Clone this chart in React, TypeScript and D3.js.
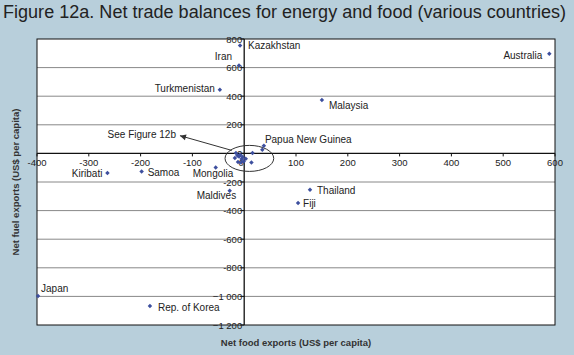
import * as d3 from "d3";

// main labelled countries
const countries = [
  "Kazakhstan", "Iran", "Turkmenistan", "Malaysia", "Australia", "Papua New Guinea",
  "Thailand", "Fiji", "Kiribati", "Samoa", "Mongolia", "Maldives", "Japan", "Rep. of Korea",
];
const foodExports = [-8, -10, -47, 150, 589, 38, 127, 104, -264, -198, -55, -28, -398, -182];
const fuelExports = [755, 615, 445, 373, 697, 54, -254, -347, -137, -126, -98, -261, -997, -1067];

// unlabelled points around the origin (see Figure 12b)
const clusterFood = [-16, -13, -18, -10, -5, -12, -6, -1, 3, -3, 16, 14, -8, 35];
const clusterFuel = [3, -14, -32, -21, -39, -60, -63, -56, -37, -25, 3, -63, -9, 26];

const xTicks = [-400, -300, -200, -100, 0, 100, 200, 300, 400, 500, 600];
const yTicks = [800, 600, 400, 200, 0, -200, -400, -600, -800, -1000, -1200];

// label placement relative to the point: [dx, dy, anchor]
const labelPlace: Record<string, [number, number, string]> = {
  Kazakhstan: [8, 4, "start"],
  Iran: [-7, -5, "end"],
  Turkmenistan: [-5, 2, "end"],
  Malaysia: [7, 9, "start"],
  Australia: [-7, 5, "end"],
  "Papua New Guinea": [1, -3, "start"],
  Thailand: [7, 4, "start"],
  Fiji: [5, 4, "start"],
  Kiribati: [-5, 4, "end"],
  Samoa: [6, 5, "start"],
  Mongolia: [-23, 10, "start"],
  Maldives: [-33, 8, "start"],
  Japan: [3, -4, "start"],
  "Rep. of Korea": [8, 5, "start"],
};

const W = 574;
const H = 355;
const left = 37, right = 555, top = 39, bottom = 325;
const font = "'Liberation Sans', Arial, sans-serif";

export default function App() {
  const x = d3.scaleLinear().domain([-400, 600]).range([left, right]);
  const y = d3.scaleLinear().domain([800, -1200]).range([top, bottom]);
  const x0 = x(0);
  const y0 = y(0);

  // small square turned 45 degrees, like the reference markers
  const diamond = d3.symbol().type(d3.symbolSquare).size(10)() ?? "";

  const fmt = (v: number) => (Math.abs(v) >= 1000 ? d3.format(",")(v).replace(",", " ") : String(v));

  // ellipse and arrow around the cluster
  const ecx = x(10), ecy = y(-35);
  const erx = x(47) - x(0), ery = y(-91) - y(0);
  const arrowTip: [number, number] = [x(-124), y(124)];
  const arrowTail: [number, number] = [x(-24), y(21)];
  const ang = Math.atan2(arrowTail[1] - arrowTip[1], arrowTail[0] - arrowTip[0]);
  const ah = 6, aw = 3;
  const head = [
    arrowTip,
    [arrowTip[0] + ah * Math.cos(ang) - aw * Math.sin(ang), arrowTip[1] + ah * Math.sin(ang) + aw * Math.cos(ang)],
    [arrowTip[0] + ah * Math.cos(ang) + aw * Math.sin(ang), arrowTip[1] + ah * Math.sin(ang) - aw * Math.cos(ang)],
  ];

  return (
    <svg width={W} height={H} style={{ position: "absolute", left: 0, top: 0, display: "block" }} fontFamily={font}>
      <rect width={W} height={H} fill="#b8cfdb" />
      <text x={3} y={18} fontSize={17.5} fill="#222" textLength={563} lengthAdjust="spacingAndGlyphs">
        Figure 12a. Net trade balances for energy and food (various countries)
      </text>

      <rect x={left} y={top} width={right - left} height={bottom - top} fill="#fff" />
      {yTicks.filter((t) => t !== 0 && t !== 800 && t !== -1200).map((t) => (
        <line key={t} x1={left} x2={right} y1={y(t)} y2={y(t)} stroke="#888" strokeWidth={1} />
      ))}
      <rect x={left} y={top} width={right - left} height={bottom - top} fill="none" stroke="#111" strokeWidth={1} />

      {/* zero axes */}
      <line x1={left} x2={right} y1={y0} y2={y0} stroke="#111" strokeWidth={1.3} />
      <line x1={x0} x2={x0} y1={top} y2={bottom} stroke="#111" strokeWidth={1.3} />

      {yTicks.map((t) => (
        <g key={"y" + t}>
          <line x1={x0 - 4} x2={x0} y1={y(t)} y2={y(t)} stroke="#111" />
          <text x={x0 - 2} y={y(t) + 3.5} fontSize={9.5} textAnchor="end" fill="#222">
            {fmt(t)}
          </text>
        </g>
      ))}
      {xTicks.filter((t) => t !== 0).map((t) => (
        <g key={"x" + t}>
          <line x1={x(t)} x2={x(t)} y1={y0} y2={y0 + 3} stroke="#111" />
          <text x={x(t)} y={y0 + 13} fontSize={9.5} textAnchor="middle" fill="#222">
            {fmt(t)}
          </text>
        </g>
      ))}
      <text x={x0 - 3} y={y0 + 13} fontSize={9.5} textAnchor="middle" fill="#222">0</text>

      {/* cluster marker */}
      <ellipse cx={ecx} cy={ecy} rx={erx} ry={ery} fill="none" stroke="#333" strokeWidth={1} />
      <line x1={arrowTail[0]} y1={arrowTail[1]} x2={arrowTip[0]} y2={arrowTip[1]} stroke="#333" strokeWidth={1} />
      <polygon points={head.map((p) => p.join(",")).join(" ")} fill="#333" />
      <text x={arrowTip[0] - 4} y={arrowTip[1] + 2} fontSize={10} textAnchor="end" fill="#222">
        See Figure 12b
      </text>

      {clusterFood.map((v, i) => (
        <path key={"c" + i} d={diamond} transform={`translate(${x(v)},${y(clusterFuel[i])}) rotate(45)`} fill="#3d4f9e" />
      ))}
      {countries.map((c, i) => {
        const px = x(foodExports[i]);
        const py = y(fuelExports[i]);
        const [dx, dy, anchor] = labelPlace[c];
        return (
          <g key={c}>
            <path d={diamond} transform={`translate(${px},${py}) rotate(45)`} fill="#3d4f9e" />
            <text x={px + dx} y={py + dy} fontSize={10} textAnchor={anchor} fill="#222">
              {c}
            </text>
          </g>
        );
      })}

      <text
        transform={`translate(19,${(top + bottom) / 2}) rotate(-90)`}
        fontSize={9.5}
        fontWeight="bold"
        textAnchor="middle"
        fill="#333"
      >
        Net fuel exports (US$ per capita)
      </text>
      <text x={296} y={346} fontSize={9.5} fontWeight="bold" textAnchor="middle" fill="#333">
        Net food exports (US$ per capita)
      </text>
    </svg>
  );
}
